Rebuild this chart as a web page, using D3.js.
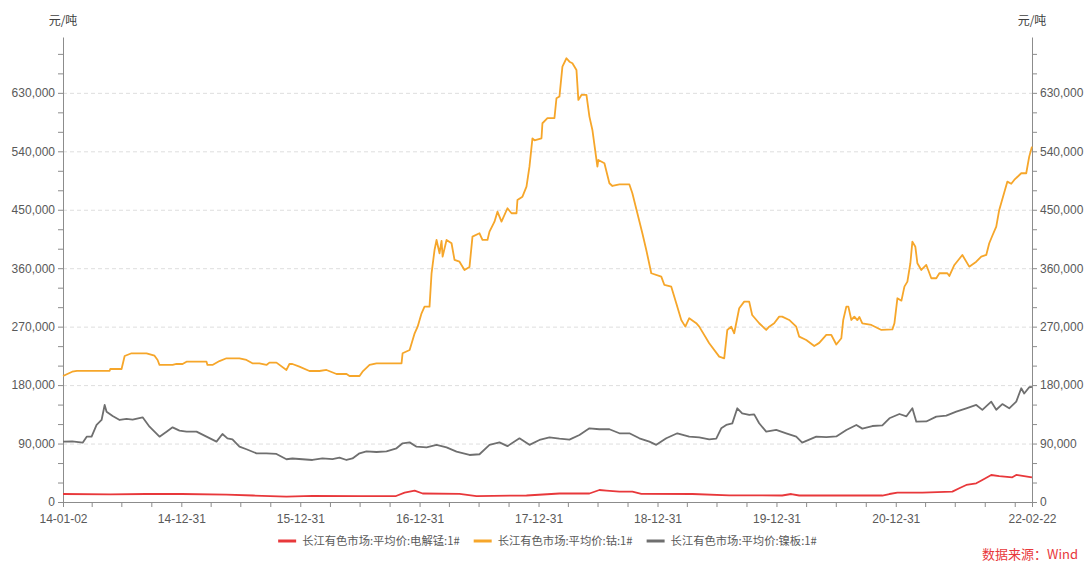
<!DOCTYPE html>
<html>
<head>
<meta charset="utf-8">
<script src="https://cdn.jsdelivr.net/npm/d3@7"></script>
<style>
  body { margin: 0; background: #fff; }
  svg { display: block; font-family: "Microsoft YaHei", "Noto Sans CJK SC", "Noto Sans", sans-serif; }
  .axis path, .axis line { stroke: #8c8c8c; }
  .axis text { fill: #595959; font-size: 12px; }
  .grid line { stroke: #dedede; stroke-dasharray: 4,3; }
  .grid path { display: none; }
  .series { fill: none; stroke-width: 1.8; stroke-linejoin: round; }
</style>
</head>
<body>
<svg width="1084" height="563"></svg>
<script>
// series names & colours
var names = ["长江有色市场:平均价:电解锰:1#", "长江有色市场:平均价:钴:1#", "长江有色市场:平均价:镍板:1#"];
var colors = ["#e8383b", "#f6a62a", "#6f6f6f"];

// time is in decimal years, values in 元/吨
var mnT = [2014.003, 2014.40, 2014.70, 2015.00, 2015.377, 2015.60, 2015.881, 2016.10, 2016.50, 2016.80, 2016.872, 2016.956, 2017.023, 2017.333, 2017.476, 2017.896, 2018.173, 2018.425, 2018.509, 2018.568, 2018.677, 2018.786, 2018.861, 2019.29, 2019.60, 2020.045, 2020.121, 2020.188, 2020.885, 2020.944, 2021.011, 2021.221, 2021.473, 2021.531, 2021.590, 2021.674, 2021.725, 2021.800, 2021.867, 2021.977, 2022.010, 2022.142];
var mnV = [12300, 11800, 12300, 12300, 11500, 10000, 8200, 9500, 9200, 9200, 14300, 17400, 13100, 12500, 9200, 10000, 13100, 13100, 18500, 17500, 15900, 15900, 12500, 12300, 10300, 10000, 12300, 10000, 10000, 12300, 14400, 14400, 15900, 21100, 26200, 28800, 33900, 41600, 40000, 38000, 41600, 38000];

var coT = [2014.003, 2014.08, 2014.12, 2014.395, 2014.40, 2014.495, 2014.521, 2014.579, 2014.705, 2014.772, 2014.798, 2014.814, 2014.924, 2014.957, 2015.008, 2015.041, 2015.209, 2015.217, 2015.259, 2015.318, 2015.377, 2015.486, 2015.545, 2015.595, 2015.654, 2015.713, 2015.738, 2015.797, 2015.881, 2015.906, 2015.931, 2015.990, 2016.074, 2016.158, 2016.217, 2016.301, 2016.385, 2016.410, 2016.494, 2016.519, 2016.578, 2016.636, 2016.846, 2016.855, 2016.914, 2016.956, 2016.981, 2017.014, 2017.039, 2017.081, 2017.098, 2017.123, 2017.140, 2017.165, 2017.182, 2017.191, 2017.224, 2017.266, 2017.291, 2017.333, 2017.375, 2017.417, 2017.442, 2017.501, 2017.526, 2017.568, 2017.585, 2017.627, 2017.652, 2017.686, 2017.736, 2017.770, 2017.812, 2017.820, 2017.862, 2017.896, 2017.921, 2017.946, 2017.963, 2018.022, 2018.030, 2018.072, 2018.131, 2018.148, 2018.173, 2018.198, 2018.232, 2018.257, 2018.282, 2018.316, 2018.332, 2018.358, 2018.400, 2018.425, 2018.450, 2018.492, 2018.500, 2018.551, 2018.593, 2018.618, 2018.677, 2018.761, 2018.786, 2018.828, 2018.870, 2018.903, 2018.945, 2019.029, 2019.055, 2019.113, 2019.155, 2019.197, 2019.231, 2019.264, 2019.323, 2019.348, 2019.432, 2019.516, 2019.558, 2019.584, 2019.617, 2019.642, 2019.684, 2019.726, 2019.768, 2019.793, 2019.852, 2019.911, 2019.936, 2019.978, 2020.020, 2020.045, 2020.104, 2020.163, 2020.188, 2020.247, 2020.314, 2020.356, 2020.415, 2020.457, 2020.499, 2020.541, 2020.557, 2020.583, 2020.600, 2020.625, 2020.650, 2020.675, 2020.692, 2020.717, 2020.793, 2020.877, 2020.969, 2020.986, 2021.011, 2021.045, 2021.070, 2021.095, 2021.120, 2021.137, 2021.162, 2021.179, 2021.212, 2021.254, 2021.296, 2021.338, 2021.364, 2021.431, 2021.448, 2021.490, 2021.557, 2021.615, 2021.674, 2021.716, 2021.758, 2021.783, 2021.809, 2021.842, 2021.867, 2021.935, 2021.968, 2021.993, 2022.052, 2022.094, 2022.119, 2022.142];
var coV = [194000, 200600, 202000, 202000, 204800, 204800, 224800, 229000, 229000, 225300, 218700, 211000, 211000, 212500, 212500, 216000, 216000, 211000, 211000, 217000, 221300, 221300, 218700, 213600, 213600, 211000, 214600, 214600, 203300, 212500, 212500, 208400, 201700, 201700, 203300, 197100, 197100, 194000, 194000, 200600, 211000, 213600, 213600, 229000, 234000, 259800, 270000, 290600, 300800, 300800, 352200, 388000, 403500, 383000, 402000, 377800, 403500, 398400, 372700, 370000, 357300, 362000, 408600, 413800, 403500, 403500, 416300, 431700, 447100, 431700, 452300, 444600, 444600, 465000, 470200, 485600, 516400, 560000, 557000, 560000, 583200, 591000, 591000, 621700, 624300, 670400, 683300, 678000, 675600, 665300, 619100, 626800, 626800, 593400, 572900, 516400, 526700, 521500, 490800, 486600, 489000, 489000, 475400, 444600, 413800, 388100, 352200, 347000, 334200, 331600, 306000, 280300, 270000, 283000, 275300, 270000, 244400, 223800, 221300, 264900, 270000, 259800, 298300, 308500, 308500, 288000, 275200, 264900, 270000, 275200, 285400, 285400, 280300, 270000, 254600, 249500, 240200, 245000, 257200, 257200, 242500, 252100, 280300, 300800, 300800, 280300, 285400, 280000, 285000, 275200, 272600, 264900, 265800, 275200, 313700, 310000, 331600, 339300, 367600, 400900, 393000, 367600, 357300, 365000, 344500, 344500, 352200, 352200, 348000, 365000, 380400, 362400, 370000, 377800, 380400, 398400, 410000, 424000, 449700, 493300, 490000, 495900, 506200, 506200, 531800, 547200];

var niT = [2014.003, 2014.08, 2014.168, 2014.202, 2014.243, 2014.285, 2014.327, 2014.353, 2014.369, 2014.420, 2014.479, 2014.537, 2014.588, 2014.672, 2014.730, 2014.814, 2014.873, 2014.924, 2014.982, 2015.041, 2015.125, 2015.209, 2015.293, 2015.343, 2015.385, 2015.427, 2015.486, 2015.545, 2015.629, 2015.713, 2015.797, 2015.881, 2015.931, 2016.015, 2016.099, 2016.183, 2016.267, 2016.326, 2016.385, 2016.435, 2016.494, 2016.552, 2016.636, 2016.720, 2016.804, 2016.855, 2016.914, 2016.972, 2017.056, 2017.140, 2017.224, 2017.308, 2017.417, 2017.501, 2017.585, 2017.669, 2017.736, 2017.837, 2017.921, 2018.005, 2018.089, 2018.173, 2018.257, 2018.341, 2018.425, 2018.509, 2018.593, 2018.677, 2018.761, 2018.845, 2018.929, 2018.987, 2019.071, 2019.164, 2019.264, 2019.348, 2019.432, 2019.491, 2019.533, 2019.575, 2019.626, 2019.668, 2019.709, 2019.768, 2019.810, 2019.852, 2019.911, 2019.995, 2020.079, 2020.163, 2020.213, 2020.272, 2020.331, 2020.415, 2020.499, 2020.583, 2020.667, 2020.717, 2020.801, 2020.885, 2020.944, 2021.028, 2021.087, 2021.137, 2021.170, 2021.254, 2021.338, 2021.422, 2021.506, 2021.590, 2021.674, 2021.725, 2021.800, 2021.842, 2021.893, 2021.951, 2022.010, 2022.052, 2022.077, 2022.119, 2022.142];
var niV = [92900, 93500, 91400, 100600, 100600, 118600, 126300, 149400, 139100, 132400, 126300, 128000, 127000, 130400, 116000, 100600, 108300, 115000, 110000, 108300, 108300, 100600, 92900, 104700, 98000, 96500, 85200, 81200, 75000, 75000, 74000, 65800, 67000, 65800, 64700, 67200, 66000, 68400, 64700, 67000, 75000, 78000, 77000, 78000, 82700, 90400, 91800, 85200, 84000, 88000, 84000, 77500, 72400, 73500, 88000, 91800, 86000, 98100, 88000, 95500, 99500, 97500, 96000, 103200, 113500, 112000, 112000, 105800, 105800, 98100, 92900, 88000, 98100, 105800, 100600, 99500, 96500, 97500, 113500, 118600, 121100, 144300, 136600, 134000, 135000, 121200, 108300, 110900, 105800, 100600, 91400, 96000, 100600, 100000, 101000, 110900, 118600, 113000, 117000, 118000, 128900, 135500, 132000, 144300, 123700, 124000, 131400, 133000, 139100, 144300, 149400, 141800, 154500, 142000, 150800, 144300, 154500, 175100, 167000, 176700, 177400];

// axis ticks
var yMax = 716000;
var yStep = 30000, yLabelStep = 90000;
var xStart = "2014-01-02", xEnd = "2022-02-22";
var unitLabel = "元/吨";
var sourceLabel = "数据来源：Wind";

var svg = d3.select("svg"),
    margin = {top: 37, right: 52, bottom: 61, left: 63},
    width = +svg.attr("width") - margin.left - margin.right,
    height = +svg.attr("height") - margin.top - margin.bottom;

var parseDate = d3.timeParse("%Y-%m-%d");

// decimal year -> Date
function toDate(v) {
  var yr = Math.floor(v),
      s = new Date(yr, 0, 1), e = new Date(yr + 1, 0, 1);
  return new Date(+s + (v - yr) * (e - s));
}

function pairs(ts, vs) {
  return ts.map(function(t, i) { return {date: toDate(t), value: vs[i]}; });
}

var series = [pairs(mnT, mnV), pairs(coT, coV), pairs(niT, niV)];

var x = d3.scaleTime().domain([parseDate(xStart), parseDate(xEnd)]).range([0, width]),
    y = d3.scaleLinear().domain([0, yMax]).range([height, 0]);

var g = svg.append("g")
    .attr("transform", "translate(" + margin.left + "," + margin.top + ")");

var yTicks = d3.range(0, yMax, yStep);
var fmt = d3.format(",");
function yLabel(d) { return d % yLabelStep === 0 ? fmt(d) : ""; }

// gridlines
g.append("g")
    .attr("class", "grid")
    .call(d3.axisLeft(y)
        .tickValues(yTicks.filter(function(d) { return d > 0 && d % yLabelStep === 0; }))
        .tickSize(-width)
        .tickFormat(""));

// x ticks: quarter ends, labels at year ends
var qTicks = d3.timeMonth.every(3).range(new Date(2014, 3, 1), new Date(2022, 0, 2))
    .map(function(d) { return d3.timeDay.offset(d, -1); });
var xTicks = [parseDate(xStart)].concat(qTicks, [parseDate(xEnd)]);
var tf = d3.timeFormat("%y-%m-%d");
function xLabel(d) {
  if (+d === +parseDate(xStart) || +d === +parseDate(xEnd)) return tf(d);
  if (d.getMonth() === 11 && d.getFullYear() < 2021) return tf(d);
  return "";
}

g.append("g")
    .attr("class", "axis axis--x")
    .attr("transform", "translate(0," + height + ")")
    .call(d3.axisBottom(x).tickValues(xTicks).tickFormat(xLabel).tickSize(5).tickSizeOuter(0))
    .selectAll("text").attr("dy", "1.05em");

g.append("g")
    .attr("class", "axis axis--y")
    .call(d3.axisLeft(y).tickValues(yTicks).tickFormat(yLabel).tickSize(5).tickSizeOuter(0));

g.append("g")
    .attr("class", "axis axis--y2")
    .attr("transform", "translate(" + width + ",0)")
    .call(d3.axisRight(y).tickValues(yTicks).tickFormat(yLabel).tickSize(5).tickSizeOuter(0));

// unit labels
[0, width].forEach(function(px) {
  g.append("text")
      .attr("x", px)
      .attr("y", -12)
      .attr("text-anchor", "middle")
      .style("font-size", "12px")
      .style("fill", "#404040")
      .text(unitLabel);
});

// lines
var line = d3.line()
    .x(function(d) { return x(d.date); })
    .y(function(d) { return y(d.value); });

series.forEach(function(s, i) {
  g.append("path")
      .datum(s)
      .attr("class", "series")
      .attr("stroke", colors[i])
      .attr("d", line);
});

// legend, centred under plot
var legend = svg.append("g");
var lx = 0;
names.forEach(function(n, i) {
  var item = legend.append("g").attr("transform", "translate(" + lx + ",0)");
  item.append("line")
      .attr("x1", 0).attr("x2", 18)
      .attr("stroke", colors[i]).attr("stroke-width", 3);
  var t = item.append("text")
      .attr("x", 24).attr("dy", "0.35em")
      .style("font-size", "11.3px")
      .style("fill", "#595959")
      .text(n);
  lx += 24 + t.node().getComputedTextLength() + 14;
});
lx -= 14;
legend.attr("transform", "translate(" + (margin.left + width / 2 - lx / 2) + ",541)");

// data source
svg.append("text")
    .attr("x", +svg.attr("width") - 6)
    .attr("y", 559)
    .attr("text-anchor", "end")
    .style("font-size", "13px")
    .style("fill", "#e8383b")
    .text(sourceLabel);
</script>
</body>
</html>
